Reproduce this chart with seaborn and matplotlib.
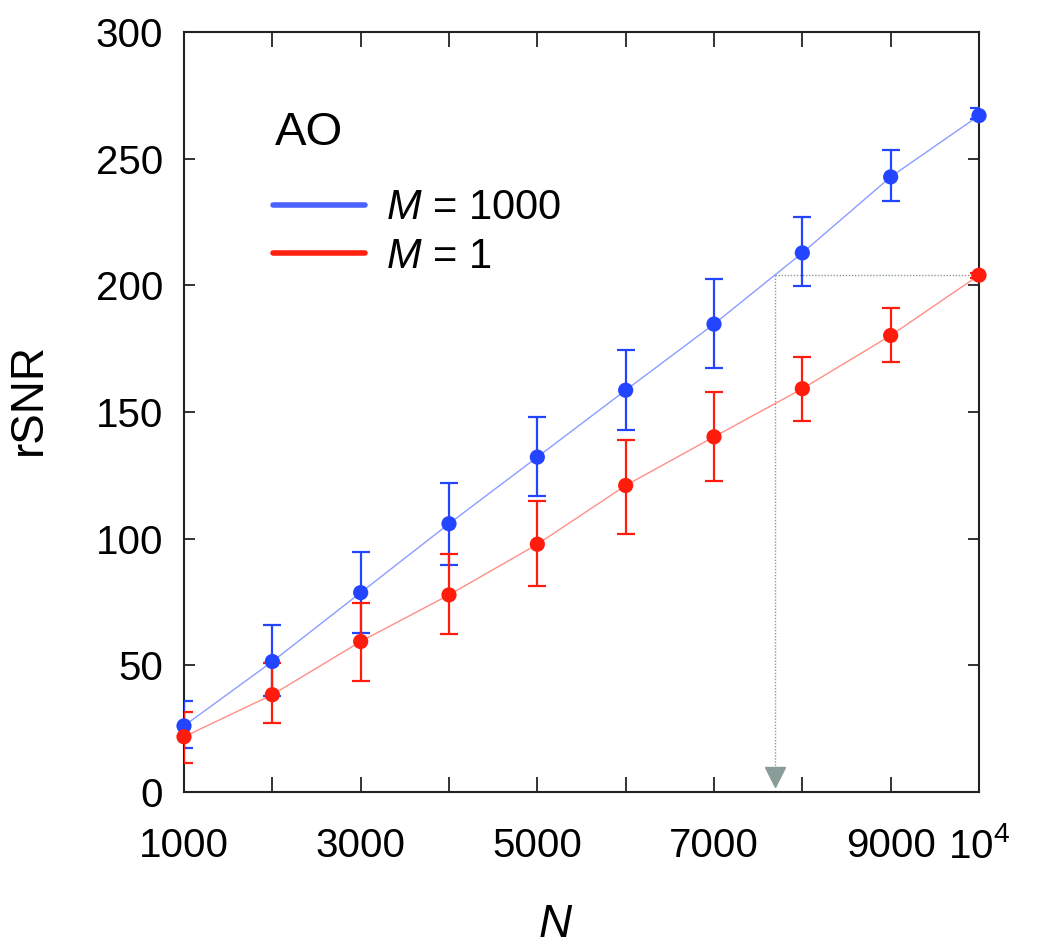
import matplotlib
matplotlib.use("Agg")
import matplotlib.pyplot as plt
from matplotlib.lines import Line2D
import numpy as np
import pandas as pd
import seaborn as sns

# N values (number of samples)
n_vals = [1000, 2000, 3000, 4000, 5000, 6000, 7000, 8000, 9000, 10000]

# M = 1000 series: mean, lower end, upper end of error bar
m1000_mean = [26.1, 51.5, 78.7, 105.9, 132.2, 158.6, 184.7, 212.8, 242.8, 267.0]
m1000_low = [17.5, 38.0, 62.9, 89.5, 116.7, 142.8, 167.4, 199.8, 233.1, 265.5]
m1000_high = [36.0, 65.8, 94.7, 121.8, 148.1, 174.3, 202.5, 227.1, 253.3, 270.1]

# M = 1 series
m1_mean = [21.8, 38.4, 59.4, 77.8, 97.8, 121.0, 140.2, 159.2, 180.2, 204.0]
m1_low = [11.3, 27.2, 43.9, 62.3, 81.3, 102.0, 122.7, 146.4, 169.8, 203.0]
m1_high = [31.6, 50.8, 74.5, 93.8, 114.8, 139.1, 157.8, 171.9, 191.0, 205.0]

x_tick_vals = [1000, 2000, 3000, 4000, 5000, 6000, 7000, 8000, 9000, 10000]
x_tick_labels = ["1000", "", "3000", "", "5000", "", "7000", "", "9000", "10$^4$"]
y_tick_vals = [0, 50, 100, 150, 200, 250, 300]

blue = "#2445ff"
blue_light = "#8c9cff"
red = "#ff1c0c"
red_light = "#ff8f86"
guide = "#8a9c98"

sns.set_theme(style="ticks")
plt.rcParams["font.family"] = ["Liberation Sans", "DejaVu Sans"]
plt.rcParams["mathtext.fontset"] = "custom"
plt.rcParams["mathtext.rm"] = "Liberation Sans"
plt.rcParams["mathtext.it"] = "Liberation Sans:italic"
for key in ["text.color", "axes.labelcolor", "xtick.color", "ytick.color"]:
    plt.rcParams[key] = "black"

df = pd.DataFrame({
    "N": n_vals * 2,
    "rSNR": m1000_mean + m1_mean,
    "series": ["M1000"] * len(n_vals) + ["M1"] * len(n_vals),
})

fig = plt.figure(figsize=(10.5, 9.5), dpi=100)
ax = fig.add_axes([184 / 1050, 1 - 792 / 950, 795 / 1050, 760 / 950])

sns.lineplot(data=df, x="N", y="rSNR", hue="series",
             palette={"M1000": blue_light, "M1": red_light},
             linewidth=1.0, legend=False, ax=ax)

for mean, lo, hi, col in [(m1000_mean, m1000_low, m1000_high, blue),
                          (m1_mean, m1_low, m1_high, red)]:
    mean = np.array(mean)
    yerr = [mean - np.array(lo), np.array(hi) - mean]
    ax.errorbar(n_vals, mean, yerr=yerr, fmt="none", ecolor=col,
                elinewidth=1.6, capsize=6.5, capthick=1.6, zorder=3)

sns.scatterplot(data=df, x="N", y="rSNR", hue="series",
                palette={"M1000": blue, "M1": red}, s=120,
                edgecolor="none", legend=False, ax=ax, zorder=4, clip_on=False)

# guide: where M=1000 reaches the M=1 value at N=10^4
target = m1_mean[-1]
n_cross = np.interp(target, m1000_mean, n_vals)
ax.plot([n_cross, n_vals[-1]], [target, target], color=guide, lw=1.0,
        ls=(0, (1, 1.2)), zorder=1)
ax.plot([n_cross, n_cross], [target, 8], color=guide, lw=1.0,
        ls=(0, (1, 1.2)), zorder=1)
ax.plot([n_cross], [6], marker="v", color=guide, markersize=14, zorder=2)

ax.set_xlim(1000, 10000)
ax.set_ylim(0, 300)
ax.set_xticks(x_tick_vals)
ax.set_xticklabels(x_tick_labels)
ax.set_yticks(y_tick_vals)

ax.tick_params(axis="both", direction="in", labelsize=29, width=1.2,
               color="#111111", top=True, right=True)
ax.tick_params(axis="x", length=11, pad=25)
ax.tick_params(axis="y", length=8, pad=15)
for sp in ax.spines.values():
    sp.set_visible(True)
    sp.set_linewidth(1.5)
    sp.set_color("#222222")

ax.set_xlabel("$N$", fontsize=33)
ax.set_ylabel("rSNR", fontsize=33)
ax.xaxis.set_label_coords(0.468, -0.146)
ax.yaxis.set_label_coords(-0.168, 0.517)

ax.text(0.1145, 0.851, "AO", transform=ax.transAxes, fontsize=34,
        ha="left", va="baseline")

handles = [Line2D([], [], color="#4a62ff", lw=4),
           Line2D([], [], color="#ff2010", lw=4)]
ax.legend(handles, ["$M$ = 1000", "$M$ = 1"],
          loc="center left", bbox_to_anchor=(0.112, 0.736),
          frameon=False, fontsize=30,
          handlelength=2.2, handletextpad=0.5, labelspacing=0.2,
          borderpad=0, borderaxespad=0)

fig.savefig("out.png", dpi=100)
